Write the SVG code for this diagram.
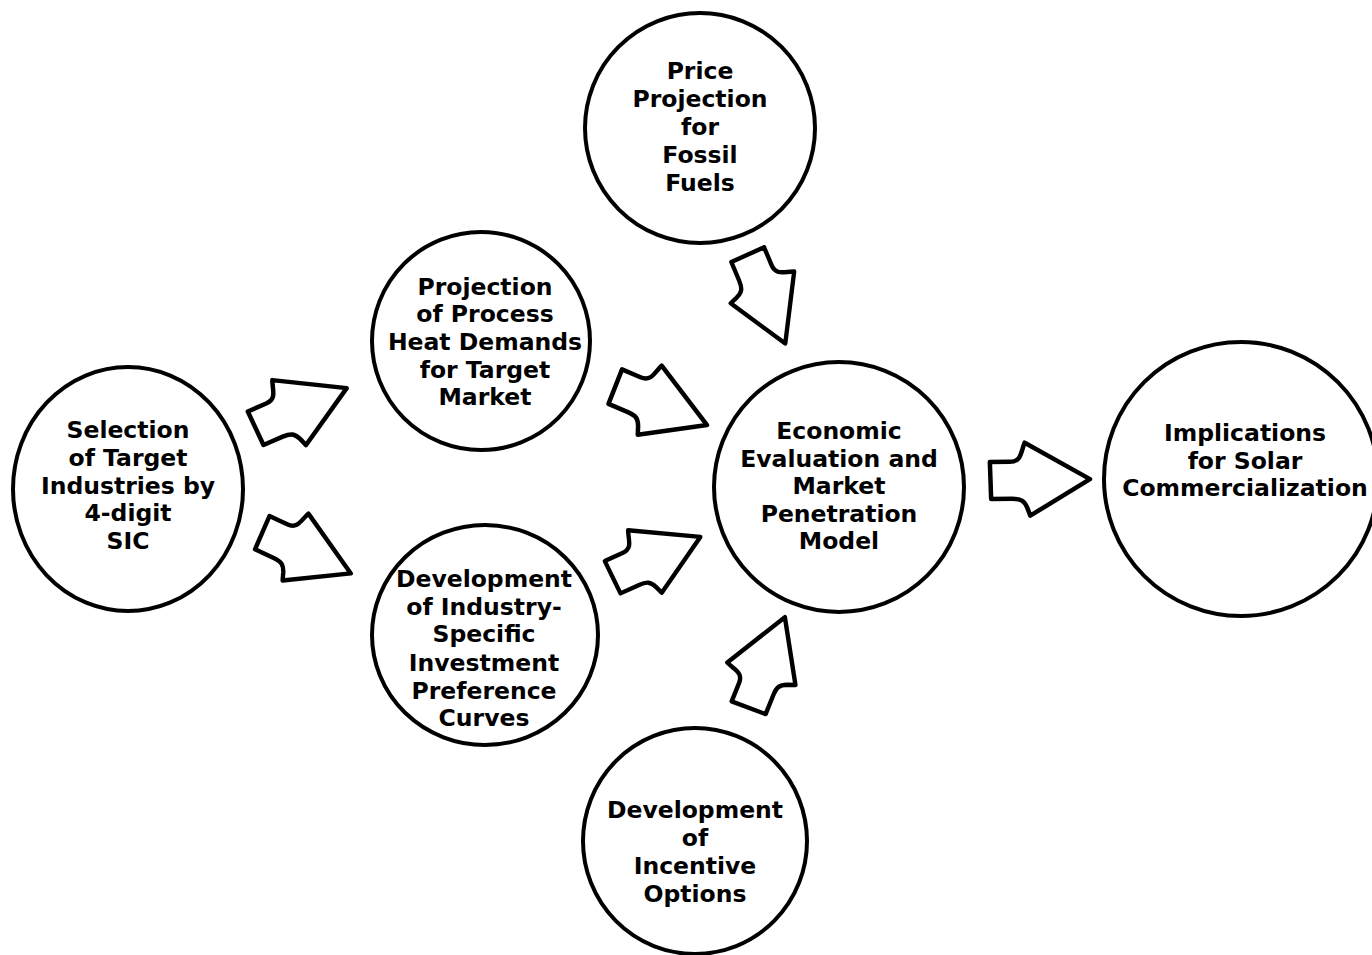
<svg xmlns="http://www.w3.org/2000/svg" xmlns:xlink="http://www.w3.org/1999/xlink" width="1372" height="955" viewBox="0 0 1372 955">
<style>
.c{fill:#fff;stroke:#000;stroke-width:4}
.t{font-family:"DejaVu Sans","Liberation Sans",Arial,sans-serif;font-weight:bold;font-size:23.5px;text-anchor:middle;fill:#000}
.a{fill:#fff;stroke:#000;stroke-width:4.5;stroke-linejoin:round}
</style>
<defs>
<path id="arr" d="M0,-18 L20,-18 C32,-18 31,-28 35,-37 L100,0 L40,36 L37,28 C34,21 31,19 22,19 L1,19 Z"/>
</defs>
<rect width="1372" height="955" fill="#fff"/>
<g id="connectors">
<use href="#arr" class="a" transform="translate(255,428) rotate(-23.5)"/>
<use href="#arr" class="a" transform="translate(262,532) rotate(25) scale(0.98)"/>
<use href="#arr" class="a" transform="translate(615,386) rotate(23)"/>
<use href="#arr" class="a" transform="translate(612,577) rotate(-24.4) scale(0.97)"/>
<use href="#arr" class="a" transform="translate(748,254) rotate(67.4) scale(0.97)"/>
<use href="#arr" class="a" transform="translate(748,708) rotate(-67.9) scale(0.98)"/>
<use href="#arr" class="a" transform="translate(990,480) rotate(-0.5)"/>
</g>
<g id="n-selection">
<ellipse class="c" cx="128" cy="489" rx="115" ry="122"/>
<text class="t" x="128" y="438">Selection</text>
<text class="t" x="128" y="466">of Target</text>
<text class="t" x="128" y="494">Industries by</text>
<text class="t" x="128" y="521">4-digit</text>
<text class="t" x="128" y="549">SIC</text>
</g>
<g id="n-projection">
<circle class="c" cx="481" cy="341" r="109"/>
<text class="t" x="485" y="295">Projection</text>
<text class="t" x="485" y="322">of Process</text>
<text class="t" x="485" y="350">Heat Demands</text>
<text class="t" x="485" y="378">for Target</text>
<text class="t" x="485" y="405">Market</text>
</g>
<g id="n-investment">
<ellipse class="c" cx="485" cy="635" rx="113" ry="110"/>
<text class="t" x="484" y="587">Development</text>
<text class="t" x="484" y="615">of Industry-</text>
<text class="t" x="484" y="642">Specific</text>
<text class="t" x="484" y="671">Investment</text>
<text class="t" x="484" y="699">Preference</text>
<text class="t" x="484" y="726">Curves</text>
</g>
<g id="n-price">
<circle class="c" cx="700" cy="128" r="115"/>
<text class="t" x="700" y="79">Price</text>
<text class="t" x="700" y="107">Projection</text>
<text class="t" x="700" y="135">for</text>
<text class="t" x="700" y="163">Fossil</text>
<text class="t" x="700" y="191">Fuels</text>
</g>
<g id="n-economic">
<circle class="c" cx="839" cy="487" r="125"/>
<text class="t" x="839" y="439">Economic</text>
<text class="t" x="839" y="467">Evaluation and</text>
<text class="t" x="839" y="494">Market</text>
<text class="t" x="839" y="522">Penetration</text>
<text class="t" x="839" y="549">Model</text>
</g>
<g id="n-incentive">
<ellipse class="c" cx="695" cy="841" rx="112" ry="113"/>
<text class="t" x="695" y="818">Development</text>
<text class="t" x="695" y="846">of</text>
<text class="t" x="695" y="874">Incentive</text>
<text class="t" x="695" y="902">Options</text>
</g>
<g id="n-implications">
<circle class="c" cx="1241" cy="479" r="137"/>
<text class="t" x="1245" y="441">Implications</text>
<text class="t" x="1245" y="469">for Solar</text>
<text class="t" x="1245" y="496">Commercialization</text>
</g>
</svg>
